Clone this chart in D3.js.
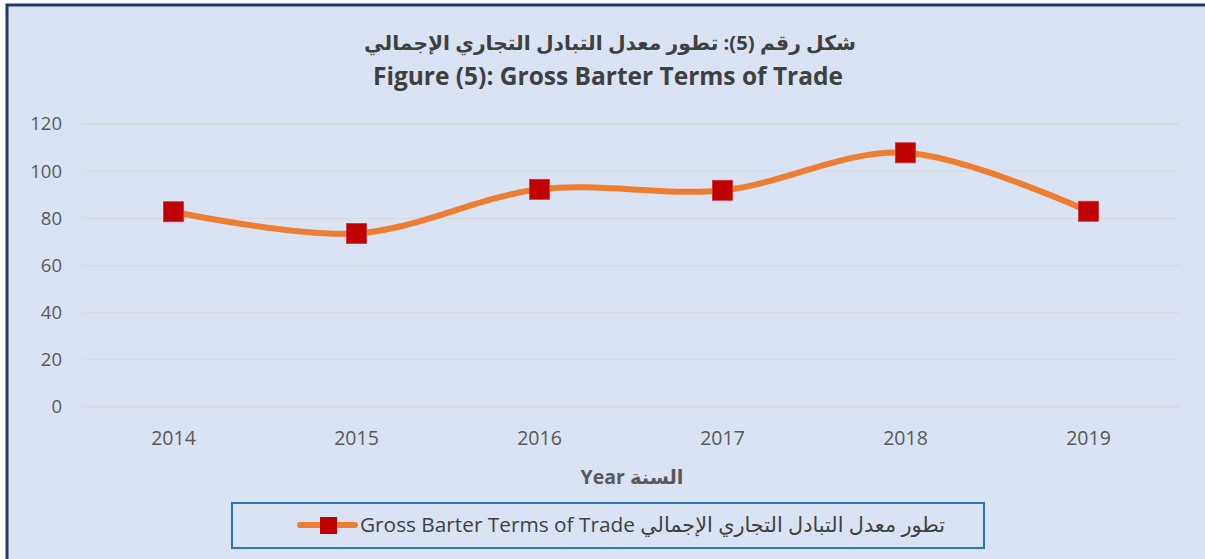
<!DOCTYPE html>
<html>
<head>
<meta charset="utf-8">
<script src="https://cdn.jsdelivr.net/npm/d3@7"></script>
<style>
  body { margin: 0; background: #ffffff; }
  svg { display: block; font-family: "Open Sans", "DejaVu Sans", sans-serif; }
</style>
</head>
<body>
<svg id="chart" width="1205" height="559"></svg>
<script>
// data
var years = ["2014", "2015", "2016", "2017", "2018", "2019"];
var values = [82.8, 73.6, 92.3, 91.9, 107.8, 83.0];
var yTicks = [0, 20, 40, 60, 80, 100, 120];
var titleAr = "شكل رقم (5): تطور معدل التبادل التجاري الإجمالي";
var titleEn = "Figure (5): Gross Barter Terms of Trade";
var axisTitle = "Year السنة";
var seriesName = "Gross Barter Terms of Trade تطور معدل التبادل التجاري الإجمالي";

var colors = {
	bg: "#dae3f3",
	frame: "#203864",
	grid: "#d9d9d9",
	line: "#ed7d31",
	marker: "#c00000",
	text: "#595959",
	title: "#404040",
	legendBox: "#2e75b6"
};

var svg = d3.select("#chart");
var margin = {left: 82, right: 25, top: 124, bottom: 152};
var width = 1205, height = 559;

// chart area with frame (right/bottom edges are cut off in the picture)
svg.append("rect")
	.attr("x", 7).attr("y", 5)
	.attr("width", width + 20).attr("height", height + 20)
	.style("fill", colors.bg)
	.style("stroke", colors.frame)
	.style("stroke-width", 3);

var x = d3.scaleBand()
	.domain(years)
	.range([margin.left, width - margin.right]);
var y = d3.scaleLinear()
	.domain([0, 120])
	.range([height - margin.bottom, margin.top]);

// gridlines
svg.append("g")
	.selectAll("line")
	.data(yTicks)
	.enter().append("line")
	.attr("x1", margin.left).attr("x2", width - margin.right)
	.attr("y1", function(d) { return y(d); })
	.attr("y2", function(d) { return y(d); })
	.style("stroke", colors.grid)
	.style("stroke-width", 1.3);

// y axis
var yAxis = svg.append("g")
	.attr("transform", "translate(" + 62 + ",0)")
	.call(d3.axisLeft(y).tickValues(yTicks).tickSize(0).tickPadding(0));
yAxis.select(".domain").remove();
yAxis.selectAll("text")
	.style("font-size", "18.5px")
	.style("font-family", "'Open Sans', 'DejaVu Sans', sans-serif")
	.style("fill", colors.text);

// x axis
var xAxis = svg.append("g")
	.attr("transform", "translate(0," + (height - margin.bottom) + ")")
	.call(d3.axisBottom(x).tickSize(0).tickPadding(24));
xAxis.select(".domain").remove();
xAxis.selectAll("text")
	.style("font-size", "19.5px")
	.style("font-family", "'Open Sans', 'DejaVu Sans', sans-serif")
	.style("fill", colors.text);

// series
var points = years.map(function(d, i) {
	return {x: x(d) + x.bandwidth() / 2, y: y(values[i])};
});
var line = d3.line()
	.x(function(d) { return d.x; })
	.y(function(d) { return d.y; })
	.curve(d3.curveCardinal.tension(0));

svg.append("path")
	.datum(points)
	.attr("d", line)
	.style("fill", "none")
	.style("stroke", colors.line)
	.style("stroke-width", 6)
	.style("stroke-linecap", "round");

var ms = 20;
svg.append("g")
	.selectAll("rect")
	.data(points)
	.enter().append("rect")
	.attr("x", function(d) { return d.x - ms / 2; })
	.attr("y", function(d) { return d.y - ms / 2; })
	.attr("width", ms).attr("height", ms)
	.style("fill", colors.marker)
	.style("stroke", "#d0303a")
	.style("stroke-width", 0.8);

// titles
svg.append("text")
	.attr("x", 610).attr("y", 50)
	.attr("text-anchor", "middle")
	.style("font-size", "20.3px").style("font-weight", "bold")
	.style("fill", colors.title)
	.text(titleAr);
svg.append("text")
	.attr("x", 608).attr("y", 85)
	.attr("text-anchor", "middle")
	.style("font-size", "24.5px").style("font-weight", "bold")
	.style("fill", colors.title)
	.text(titleEn);

svg.append("text")
	.attr("x", 632).attr("y", 484)
	.attr("text-anchor", "middle")
	.style("font-size", "19.5px").style("font-weight", "bold")
	.style("fill", colors.text)
	.text(axisTitle);

// legend
var legend = svg.append("g");
legend.append("rect")
	.attr("x", 232).attr("y", 503)
	.attr("width", 752).attr("height", 45)
	.style("fill", "none")
	.style("stroke", colors.legendBox)
	.style("stroke-width", 2);
legend.append("line")
	.attr("x1", 300).attr("x2", 355)
	.attr("y1", 525).attr("y2", 525)
	.style("stroke", colors.line)
	.style("stroke-width", 6)
	.style("stroke-linecap", "round");
legend.append("rect")
	.attr("x", 320).attr("y", 517)
	.attr("width", 17).attr("height", 17)
	.style("fill", colors.marker);
legend.append("text")
	.attr("x", 360).attr("y", 532)
	.style("font-size", "20.8px")
	.style("fill", colors.title)
	.text(seriesName);
</script>
</body>
</html>
